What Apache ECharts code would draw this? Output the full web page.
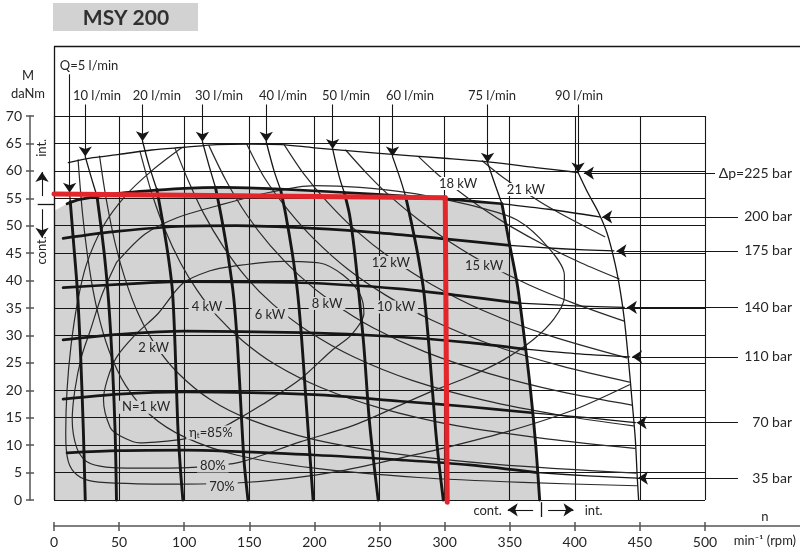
<!DOCTYPE html>
<html>
<head>
<meta charset="utf-8">
<script src="https://cdn.jsdelivr.net/npm/echarts@6/dist/echarts.min.js"></script>
<style>
  html, body { margin: 0; padding: 0; background: #fff; }
  #chart { width: 800px; height: 553px; }
</style>
</head>
<body>
<div id="chart"></div>
<script>
// ---------- axis ticks ----------
const speedTicks = [0, 50, 100, 150, 200, 250, 300, 350, 400, 450, 500];   // n, min^-1
const torqueTicks = [0, 5, 10, 15, 20, 25, 30, 35, 40, 45, 50, 55, 60, 65, 70]; // M, daNm

// ---------- pressure curves Δp (rpm, daNm) ----------
const p225 = [[11,61.5],[30,62.4],[50,63],[75,63.8],[100,64.3],[125,64.8],[150,64.9],[175,64.8],[200,64.2],[250,63.2],[300,62.3],[335,61.6],[370,60.6],[402.5,59.7]];
const p200Cont = [[10,54],[20,54.8],[50,55.9],[100,56.8],[130,57],[170,56.7],[220,56.1],[270,55.4],[310,54.7],[344,54]];
const p200Int = [[344,54],[380,53],[419,51.6]];
const p175Cont = [[7,47.7],[50,49],[100,49.9],[140,50],[200,49.5],[250,48.7],[300,47.6],[350,46.4]];
const p175Int = [[350,46.4],[390,45.8],[430,45.4]];
const p140Cont = [[7,38.7],[50,39.3],[100,39.8],[190,39.6],[266,38.5],[310,37.3],[357,35.9]];
const p140Int = [[357,35.9],[400,35.4],[438,35.1]];
const p110Cont = [[7,29.2],[50,30.2],[100,30.8],[190,30.5],[260,29.8],[319,28.7],[362,27.5]];
const p110Int = [[362,27.5],[400,26.7],[442,26.1]];
const p70Cont = [[7,18.4],[50,19.3],[100,19.7],[200,19.2],[266,18],[319,17],[367,15.9]];
const p70Int = [[367,15.9],[410,15],[446.5,14.1]];
const p35Cont = [[10,8.6],[50,9],[100,9.1],[200,8.2],[266,7.3],[319,6.4],[371,5]];
const p35Int = [[371,5],[410,4.4],[448,4.0]];

// ---------- flow curves Q (rpm, daNm): upper thin part / continuous thick part ----------
const q5Int = [[12,56],[12.5,54.4]];
const q5Cont = [[12.5,54.4],[15,47],[18,38],[20.5,26],[22.5,13],[24,0]];
const q10Int = [[24,62.6],[29,58.5],[33,55.4]];
const q10Cont = [[33,55.4],[36,50],[39,44],[42,36],[45,24],[47,12],[48,0]];
const q20Int = [[68,65.4],[73,61],[79,56.6]];
const q20Cont = [[79,56.6],[84,50],[88,44],[91,38],[93,28],[95,14],[97,6],[99,0]];
const q30Int = [[114,65.3],[119,61],[124,57]];
const q30Cont = [[124,57],[129,51],[134,44],[138,37],[141,28],[144,15],[146,7],[149,0]];
const q40Int = [[163,65.3],[169,60],[174,56.6]];
const q40Cont = [[174,56.6],[178,52],[183,45],[187,38],[190,30],[193,20],[196,10],[199,0]];
const q50Int = [[214,64],[219,59],[223,56]];
const q50Cont = [[223,56],[227,52],[231,45],[234,38],[238,28],[242,15],[246,6],[249,0]];
const q60Int = [[260,62.6],[266,58.5],[270,55.4]];
const q60Cont = [[270,55.4],[275,50],[280,44],[284,38],[288,28],[293,13],[296,6],[299,0]];
const q75Int = [[333,61.5],[338,58],[344,54]];
const q75Cont = [[344,54],[350,46.5],[356,39],[361,30],[366,20],[370,10],[373,0]];
const q90Int = [[402.5,59.7],[410,56],[418,52.5],[425,48.5],[431,43],[435,38],[438,33],[441,26],[444,18],[446.5,11],[448,4],[449,0]];

// ---------- output power N (rpm, daNm) ----------
const kw1 = [[18.5,62],[22,52],[27,42.5],[33,34.8],[42,27.4],[55,20.9],[74,15.5],[100,11.5],[140,8.2],[200,5.8],[280,4.1],[360,3.2],[447.5,2.6]];
const kw2 = [[35,62.7],[40,55],[47,46.8],[55,40],[65,33.8],[78,28.2],[95,23.2],[120,18.3],[150,14.7],[200,11],[260,8.5],[340,6.5],[447,4.9]];
const kw4 = [[66,63.6],[75,56],[85,49.4],[97,43.3],[110,38.2],[125,33.6],[145,29],[170,24.7],[205,20.5],[250,16.8],[310,13.5],[380,11.1],[446,9.4]];
const kw6 = [[93,64.1],[103,58.3],[115,52.2],[130,46.2],[148,40.5],[168,35.7],[195,30.8],[230,26.1],[275,21.8],[330,18.2],[390,15.4],[445,13.5]];
const kw8 = [[119,64.6],[132,58.3],[148,52],[166,46.4],[188,41],[214,36],[245,31.4],[285,27],[335,23],[390,19.7],[444,17.3]];
const kw10 = [[148,64.9],[162,58.6],[180,52.8],[200,47.5],[225,42.2],[255,37.3],[290,32.8],[335,28.4],[390,24.4],[442,21.5]];
const kw12 = [[177,64.7],[192,59.4],[210,54.3],[232,49.1],[258,44.2],[290,39.3],[330,34.5],[380,30],[440,25.9]];
const kw15 = [[224,63.8],[240,59.6],[258,55.4],[280,51.1],[305,46.9],[331,43.2],[365,39.2],[400,35.8],[438,32.6]];
const kw18 = [[280,62.6],[295,59.3],[312,56.1],[330,53],[352,49.7],[378,46.3],[405,43.2],[434,40.3]];
const kw21 = [[329,61.8],[345,58.8],[362,56.1],[380,53.4],[400,50.8],[423,48]];

// ---------- total efficiency ηt (rpm, daNm) ----------
const eta70 = [[442,21],[400,16.5],[350,12.6],[300,9.5],[265,7.6],[220,5.3],[180,3.9],[140,3.1],[100,2.9],[60,3],[30,3.4],[18,4.5],[11,7],[9,12],[10,20],[13,28],[18,36],[25,43],[38,50],[55,55.5],[75,60],[98,64.2]];
const eta80 = [[48,43.3],[70,48.5],[95,51.5],[125,53.6],[166,56.1],[200,57.3],[235,57],[273,56],[300,54.8],[327,53.3],[356,51],[379,46.2],[392,41],[392,37],[384,33],[368,29.2],[345,25.5],[319,22.5],[290,19.8],[266,17.3],[230,13.6],[189,10.6],[143,6.9],[110,6],[70,5.8],[40,6],[25,7],[17.5,9.5],[14,14.6],[16,20],[21,26],[28,31],[37,37.5],[48,43.3]];
const eta85 = [[97,11],[66,10.4],[50,11.8],[43,13.3],[38,18.3],[41,22],[48,26],[62,30],[80,34],[99,39.5],[120,41.8],[137,42.6],[176,43.5],[204,43.2],[222,41],[235,37.5],[238,34],[228,30],[214,27.4],[189,22],[160,17.4],[137,14.2],[120,12.2],[97,11]];

// continuous-duty area (bounded by the 200 bar and 75 l/min curves)
const contArea = [[0,0],[0,52.7],[10,54],[20,54.8],[50,55.9],[100,56.8],[130,57],[170,56.7],[220,56.1],[270,55.4],[310,54.7],[344,54],[350,46.5],[356,39],[361,30],[366,20],[370,10],[373,0]];

// highlighted operating point: 300 min^-1 at 55 daNm
const workLineH = [[0,55.8],[300.5,55.1]];
const workLineV = [[300.5,55.1],[302,-0.4]];

// ---------- labels ----------
const flowLabels = ['Q=5 l/min','10 l/min','20 l/min','30 l/min','40 l/min','50 l/min','60 l/min','75 l/min','90 l/min'];
const flowLabelPos = [[26.9,79.1],[33,73.6],[79,73.6],[126.7,73.6],[175.9,73.6],[224.3,73.6],[273.4,73.6],[336.4,73.6],[403.2,73.6]];
const flowArrowTop = [77.6,72.1,72.1,72.1,72.1,72.1,72.1,72.1,72.1];

const pressLabels = ['Δp=225 bar','200 bar','175 bar','140 bar','110 bar','70 bar','35 bar'];
const pressLabelM = [59.6,51.6,45.4,35.1,26.1,14.1,4.0];
const pressArrowTip = [407,421,432,440,444,447.5,448.5];
const pressArrowFrom = [507.7,525.3,525.3,525.3,525.3,525.3,525.3];

const kwGrayLabels = ['N=1 kW','2 kW','4 kW','6 kW','8 kW','10 kW','12 kW','15 kW'];
const kwGrayPos = [[70.7,16.9],[76.5,27.8],[117.5,35.2],[165.9,33.8],[209.7,35.8],[262.7,35.2],[258.8,43.3],[330.3,42.7]];
const kwWhiteLabels = ['18 kW','21 kW'];
const kwWhitePos = [[310.3,57.7],[362.5,56.6]];
const etaLabels = ['{e|η}{s|t}{e|=85%}','80%','70%'];
const etaPos = [[120.6,12.3],[122,6.2],[129,2.4]];

const INK = '#161616';
const AXIS = '#555555';
const FONT = 'Lato, "Open Sans", sans-serif';
const GRAY = '#d3d3d3';

function curve(data, width, color, z) {
  return {
    type: 'line', data: data, smooth: 0.3, symbol: 'none', showSymbol: false,
    clip: false, silent: true, animation: false, z: z || 3,
    lineStyle: { color: color || INK, width: width, cap: 'round', join: 'round' }
  };
}

function textSeries(pos, labels, opt) {
  return {
    type: 'custom', coordinateSystem: 'cartesian2d', clip: false, silent: true,
    animation: false, z: opt.z || 12, data: pos,
    renderItem: function (params, api) {
      const p = api.coord([api.value(0), api.value(1)]);
      return {
        type: 'text', x: p[0], y: p[1], rotation: opt.rotation || 0,
        style: {
          text: labels[params.dataIndex], fill: opt.color || '#262626',
          font: opt.font || ('13px ' + FONT), align: opt.align || 'center',
          verticalAlign: 'middle', backgroundColor: opt.bg, padding: opt.pad,
          rich: opt.rich
        }
      };
    }
  };
}

function arrows(list, z) {
  return {
    type: 'lines', coordinateSystem: 'cartesian2d', clip: false, silent: true,
    animation: false, z: z || 8,
    symbol: ['none', 'arrow'], symbolSize: [6, 10],
    lineStyle: { color: INK, width: 1.1, opacity: 1, curveness: 0 },
    data: list.map(function (c) { return { coords: c }; })
  };
}

const series = [];

// continuous-duty fill, underneath the grid lines
series.push({
  type: 'custom', coordinateSystem: 'cartesian2d', silent: true, animation: false,
  z: -1, data: [[0, 0]],
  renderItem: function (params, api) {
    return {
      type: 'polygon',
      shape: { points: contArea.map(function (p) { return api.coord(p); }) },
      style: { fill: GRAY }
    };
  }
});

// frame: top rule, left rule, extension of the speed axis, duty dividers
const frameTopM = 82.7, frameRightN = 575, speedAxisM = -4.74;
series.push({
  type: 'lines', coordinateSystem: 'cartesian2d', clip: false, silent: true,
  animation: false, z: 4,
  lineStyle: { color: INK, width: 1.3, opacity: 1 },
  data: [
    { coords: [[0, frameTopM], [frameRightN, frameTopM]] },
    { coords: [[0, 0], [0, frameTopM]] },
    { coords: [[500, speedAxisM], [frameRightN, speedAxisM]], lineStyle: { color: AXIS, width: 1.5 } },
    { coords: [[-12.5, 53.9], [0, 53.9]] },
    { coords: [[374, -0.4], [374, -3.1]] }
  ]
});

// efficiency and power curves (thin)
[eta70, eta80, eta85].forEach(function (d) { series.push(curve(d, 1.2, '#2a2a2a', 3)); });
[kw1, kw2, kw4, kw6, kw8, kw10, kw12, kw15, kw18, kw21].forEach(function (d) { series.push(curve(d, 1.2, '#2a2a2a', 3)); });

// pressure curves
series.push(curve(p225, 1.3, INK, 4));
[p200Int, p175Int, p140Int, p110Int, p70Int, p35Int].forEach(function (d) { series.push(curve(d, 1.3, INK, 4)); });
[p200Cont, p175Cont, p140Cont, p110Cont, p70Cont, p35Cont].forEach(function (d) { series.push(curve(d, 2.7, INK, 5)); });

// flow curves
[q5Int, q10Int, q20Int, q30Int, q40Int, q50Int, q60Int, q75Int, q90Int].forEach(function (d) { series.push(curve(d, 1.3, INK, 4)); });
[q5Cont, q10Cont, q20Cont, q30Cont, q40Cont, q50Cont, q60Cont, q75Cont].forEach(function (d) { series.push(curve(d, 2.9, INK, 5)); });

// flow arrows from the labels down to each flow curve
const flowStarts = [q5Int, q10Int, q20Int, q30Int, q40Int, q50Int, q60Int, q75Int, q90Int].map(function (d) { return d[0]; });
series.push(arrows(flowStarts.map(function (s, i) { return [[s[0], flowArrowTop[i]], [s[0], s[1]]]; })));

// pressure arrows from the right-hand labels
series.push(arrows(pressLabelM.map(function (m, i) { return [[pressArrowFrom[i], m], [pressArrowTip[i], m]]; })));

// duty markers beside the axes
series.push(arrows([
  [[-9.2, 55.4], [-9.2, 59.8]],
  [[-9.2, 53.0], [-9.2, 47.8]],
  [[368, -1.8], [348.5, -1.8]],
  [[379.5, -1.8], [399, -1.8]]
]));

// highlighted operating point
series.push(curve(workLineH, 5, '#e3262c', 20));
series.push(curve(workLineV, 5, '#e3262c', 20));

// labels
series.push(textSeries(flowLabelPos, flowLabels, { font: '13px ' + FONT }));
series.push(textSeries(pressLabelM.map(function (m) { return [566.8, m]; }), pressLabels, { font: '14px ' + FONT, align: 'right', bg: '#fff', pad: [0, 0, 0, 3] }));
series.push(textSeries(kwGrayPos, kwGrayLabels, { font: '13px ' + FONT, bg: GRAY, pad: [0, 3] }));
series.push(textSeries(kwWhitePos, kwWhiteLabels, { font: '13px ' + FONT, bg: '#fff', pad: [0, 3] }));
series.push(textSeries(etaPos, etaLabels, {
  font: '13px ' + FONT, bg: GRAY, pad: [0, 3],
  rich: { e: { font: '13px ' + FONT, fill: '#262626' }, s: { font: '8px ' + FONT, fill: '#262626', verticalAlign: 'bottom', padding: [6, 0, 0, 0] } }
}));
series.push(textSeries([[-9.2, 64.2]], ['int.'], { font: '13px ' + FONT, rotation: Math.PI / 2 }));
series.push(textSeries([[-9.2, 45.5]], ['cont.'], { font: '13px ' + FONT, rotation: Math.PI / 2 }));
series.push(textSeries([[333, -2]], ['cont.'], { font: '13px ' + FONT }));
series.push(textSeries([[414.5, -2]], ['int.'], { font: '13px ' + FONT }));
series.push(textSeries([[-20, 77.3], [-20, 74]], ['M', 'daNm'], { font: '13px ' + FONT }));
series.push(textSeries([[546, -3.1], [546, -7.5]], ['n', 'min⁻¹ (rpm)'], { font: '13px ' + FONT }));

const axisText = { color: '#262626', fontFamily: FONT, fontSize: 14 };

const option = {
  animation: false,
  backgroundColor: '#ffffff',
  grid: { left: 54, right: 95, top: 116, bottom: 53, containLabel: false },
  graphic: [
    { type: 'rect', shape: { x: 53, y: 3, width: 145, height: 28 }, style: { fill: '#d2d2d2' }, z: 0 },
    { type: 'text', x: 126, y: 18, style: { text: 'MSY 200', font: 'bold 21px ' + FONT, fill: '#303030', align: 'center', verticalAlign: 'middle' }, z: 1 }
  ],
  xAxis: [
    {
      type: 'value', min: 0, max: 500, interval: 50, offset: 26, position: 'bottom',
      axisLine: { show: true, onZero: false, lineStyle: { color: AXIS, width: 1.5 } },
      axisTick: { show: true, length: 5, lineStyle: { color: AXIS, width: 1.5 } },
      axisLabel: Object.assign({ margin: 9, formatter: function (v) { return speedTicks.indexOf(v) >= 0 ? String(v) : ''; } }, axisText),
      splitLine: { show: true, lineStyle: { color: INK, width: 1.1 } }
    },
    {
      type: 'value', min: 0, max: 500, interval: 50, offset: 26, position: 'bottom',
      axisLine: { show: false, onZero: false }, axisLabel: { show: false }, splitLine: { show: false },
      axisTick: { show: true, inside: true, length: 4, lineStyle: { color: AXIS, width: 1.5 } }
    }
  ],
  yAxis: [
    {
      type: 'value', min: 0, max: 70, interval: 5, offset: 24, position: 'left',
      axisLine: { show: true, onZero: false, lineStyle: { color: AXIS, width: 1.5 } },
      axisTick: { show: true, length: 4, lineStyle: { color: AXIS, width: 1.5 } },
      axisLabel: Object.assign({ margin: 8, formatter: function (v) { return torqueTicks.indexOf(v) >= 0 ? String(v) : ''; } }, axisText),
      splitLine: { show: true, lineStyle: { color: INK, width: 1.1 } }
    },
    {
      type: 'value', min: 0, max: 70, interval: 5, offset: 24, position: 'left',
      axisLine: { show: false, onZero: false }, axisLabel: { show: false }, splitLine: { show: false },
      axisTick: { show: true, inside: true, length: 4, lineStyle: { color: AXIS, width: 1.5 } }
    }
  ],
  series: series
};

const chart = echarts.init(document.getElementById('chart'), null, { renderer: 'canvas' });
chart.setOption(option);
</script>
</body>
</html>
